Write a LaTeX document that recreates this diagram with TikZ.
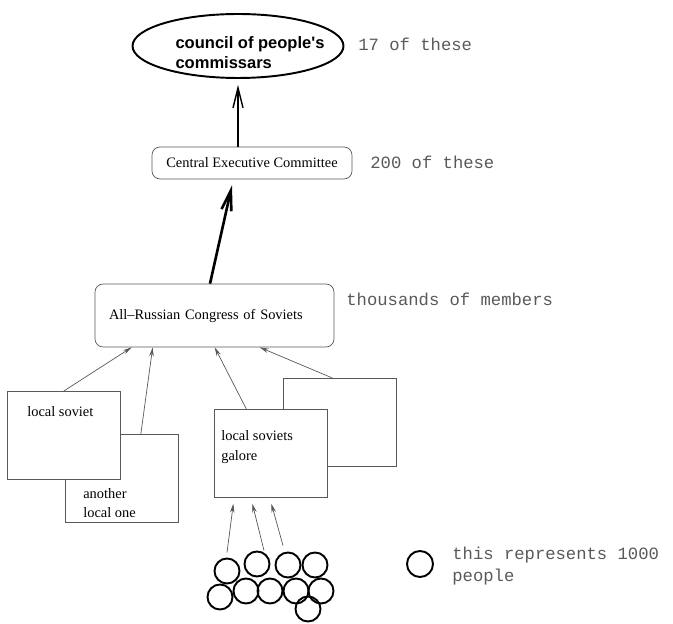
\documentclass[tikz,border=0pt]{standalone}
\usepackage{fontspec}
\setmainfont{Liberation Serif}
\setmonofont{Liberation Mono}
\newfontfamily\helv{Liberation Sans}
\usepackage{tikz}
\usetikzlibrary{arrows.meta,shapes.geometric,calc,positioning}

\tikzset{
	serif/.style={font=\fontsize{8.2}{11}\selectfont, align=left, inner sep=0pt},
	remark/.style={font=\fontsize{9.8}{12.5}\selectfont\ttfamily, text=black!65, align=left, anchor=west, inner sep=0pt},
	bold/.style={font=\fontsize{9.4}{11.3}\selectfont\helv\bfseries, align=left, inner sep=0pt},
	council/.style={ellipse, draw, line width=1.1pt, minimum width=4.22cm, minimum height=1.28cm, inner sep=0pt},
	roundbox/.style={draw=black!65, rounded corners=0.16cm, font=\fontsize{8.2}{11}\selectfont, inner sep=0pt},
	sovbox/.style={draw=black!65, fill=white, anchor=north west, minimum width=2.26cm, minimum height=1.76cm, inner sep=0pt},
	crowd/.style={circle, draw, line width=1.1pt, minimum size=0.5cm, inner sep=0pt},
	bigarrow/.style={line width=0.8pt, -{Straight Barb[length=4mm,width=2mm]}},
	thickarrow/.style={line width=1.5pt, -{Straight Barb[length=4mm,width=2mm]}},
	feed/.style={draw=black!65, line width=0.4pt, -{Stealth[length=1.8mm,width=0.9mm]}}
}

\begin{document}
\begin{tikzpicture}[x=0.02cm, y=-0.02cm]
	\useasboundingbox (0,0) rectangle (673,624);
	% top of the tree
	\node[council] (council) at (238,46) {};
	\node[bold] (counciltext) at (250,53) {council of people's\\commissars};
	\node[remark] (n17) at (358,44) {17 of these};
	\node[roundbox, minimum width=4cm, minimum height=0.64cm] (cec) at (252,163) {Central Executive Committee};
	\node[remark] (n200) at (370,162) {200 of these};
	\node[roundbox, align=left, text width=4.22cm, inner xsep=0.28cm, minimum height=1.26cm] (congress) at (214.5,315.5) {All--Russian Congress of Soviets};
	\node[remark] (nthousands) at (346,299) {thousands of members};
	\draw[bigarrow] (council.south |- cec.north) -- ($(council.south)+(0,6)$);
	\draw[thickarrow] ($(congress.north)+(-4.5,0)$) -- ($(cec.south)+(-20,6)$);
	% local soviets
	\node[sovbox] (alo) at (65,434) {};
	\node[sovbox] (ls) at (7,391) {};
	\node[sovbox] (behind) at (283,378) {};
	\node[sovbox] (galore) at (214,409) {};
	\node[serif, anchor=west] (lstext) at ($(ls.north west)+(20,21)$) {local soviet};
	\node[serif, anchor=west] (alotext) at ($(alo.south west)+(18,-19.5)$) {another\\local one};
	\node[serif, anchor=west] (galoretext) at ($(galore.north west)+(7,38)$) {local soviets\\galore};
	\draw[feed] (ls.north) -- ($(congress.south west)+(37,0)$);
	\draw[feed] ($(alo.north)+(19,0)$) -- ($(congress.south west)+(58,0)$);
	\draw[feed] ($(galore.north)+(-24.5,0)$) -- ($(congress.south west)+(120,0)$);
	\draw[feed] ($(behind.north)+(-7.5,0)$) -- ($(congress.south west)+(165,0)$);
	% the people
	\foreach \cx/\cy [count=\i] in {227/571, 257/564, 288/565, 315/565, 220/597, 246/591, 270/591, 296/591, 321/591, 308/609}
		\node[crowd] (p\i) at (\cx,\cy) {};
	\draw[feed] ($(p1.north)+(0,-5)$) -- ($(galore.south)+(-37.5,6)$);
	\draw[feed] ($(p2.north)+(7,0)$) -- ($(galore.south)+(-18.5,6)$);
	\draw[feed] ($(p3.north)+(-5,-6)$) -- ($(galore.south)+(0.5,6)$);
	\node[crowd, minimum size=0.52cm] (key) at (420,564) {};
	\node[remark] (keytext) at (452,566) {this represents 1000\\people};
\end{tikzpicture}
\end{document}
